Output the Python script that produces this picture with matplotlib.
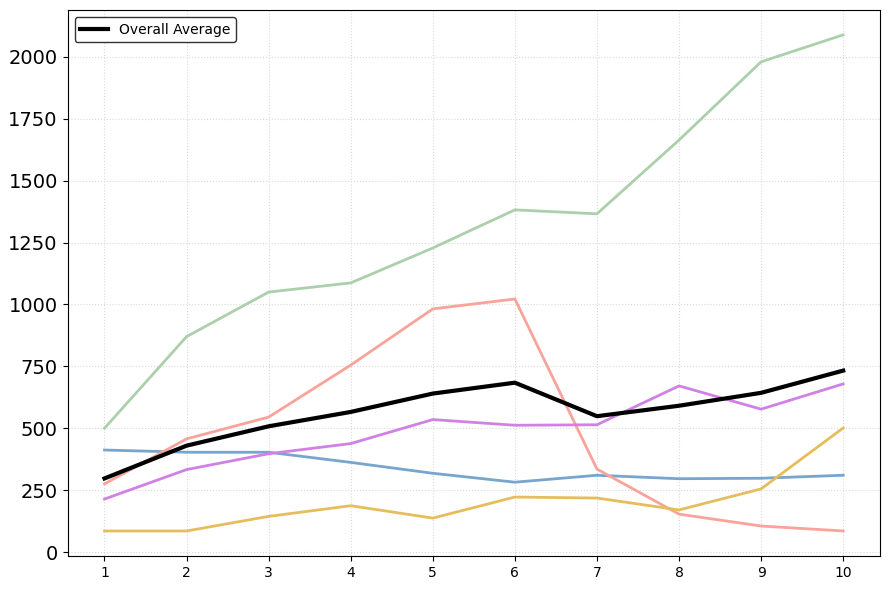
import numpy as np
import matplotlib
matplotlib.use("Agg")
import matplotlib.pyplot as plt

x = [1, 2, 3, 4, 5, 6, 7, 8, 9, 10]
green = [500, 870, 1050, 1087, 1228, 1382, 1366, 1664, 1980, 2089]
red = [275, 457, 545, 755, 982, 1022, 335, 153, 105, 85]
purple = [214, 333, 397, 438, 535, 512, 514, 671, 577, 679]
blue = [412, 403, 403, 362, 318, 282, 310, 296, 298, 310]
yellow = [85, 85, 144, 187, 137, 222, 218, 170, 255, 501]

series = [
    (blue, "#78a5cc"),
    (green, "#abd0ab"),
    (red, "#f9a39a"),
    (purple, "#cf82e4"),
    (yellow, "#e6bd5c"),
]
average = np.mean([green, red, purple, blue, yellow], axis=0)

fig, ax = plt.subplots(figsize=(8.89, 5.9), dpi=100)
fig.subplots_adjust(left=0.076, right=0.99, top=0.983, bottom=0.058)
for vals, col in series:
    ax.plot(x, vals, color=col, linewidth=2)
ax.plot(x, average, color="black", linewidth=3, label="Overall Average")

ax.set_xticks(x)
ax.tick_params(axis="y", labelsize=14)
ax.tick_params(axis="x", labelsize=10)
ax.grid(True, linestyle=":", color="#d9d9d9", linewidth=0.8)
leg = ax.legend(loc="upper left", fontsize=10, framealpha=1, edgecolor="#333333")
fig.savefig("out.png", dpi=100)
